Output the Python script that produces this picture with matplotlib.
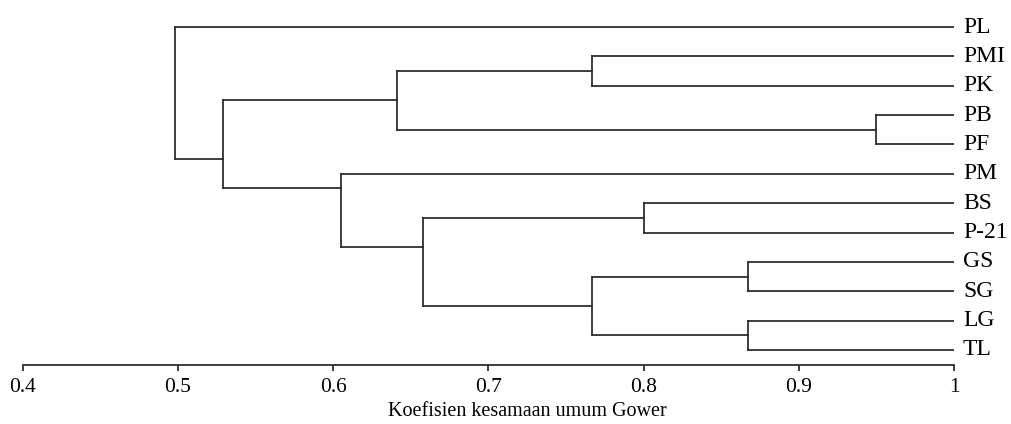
import matplotlib
matplotlib.use("Agg")
import matplotlib.pyplot as plt

# ---- data ----
leaf_labels = ["PL", "PMI", "PK", "PB", "PF", "PM", "BS", "P-21", "GS", "SG", "LG", "TL"]
# merges (scipy-like ids: leaves 0..11, new clusters 12..)
merge_left = [1, 3, 12, 6, 8, 10, 16, 15, 5, 14, 0]
merge_right = [2, 4, 13, 7, 9, 11, 17, 18, 19, 20, 21]
merge_similarity = [0.767, 0.950, 0.641, 0.800, 0.867, 0.867, 0.767, 0.658, 0.605, 0.529, 0.498]
tick_values = [0.4, 0.5, 0.6, 0.7, 0.8, 0.9, 1.0]
tick_labels = ["0.4", "0.5", "0.6", "0.7", "0.8", "0.9", "1"]
xlabel = "Koefisien kesamaan umum Gower"

plt.rcParams["font.family"] = ["Liberation Serif", "DejaVu Serif"]

W, H = 1011, 424
fig = plt.figure(figsize=(W / 100, H / 100), dpi=100)
left_px, right_px = 22.7, 954.0
bottom_px, top_px = 365.0, 5.0
ax = fig.add_axes([left_px / W, (H - bottom_px) / H,
                   (right_px - left_px) / W, (bottom_px - top_px) / H])

n = len(leaf_labels)
leaf_y = list(range(n))
node_x = {i: 1.0 for i in range(n)}
node_y = {i: leaf_y[i] for i in range(n)}
node_min = {i: i for i in range(n)}
node_max = {i: i for i in range(n)}

lc = "#2e2e2e"
lw = 1.3
for k, (a, b, s) in enumerate(zip(merge_left, merge_right, merge_similarity)):
    cid = n + k
    y = (node_max[a] + node_min[b]) / 2.0
    node_x[cid] = s
    node_y[cid] = y
    node_min[cid] = min(node_min[a], node_min[b])
    node_max[cid] = max(node_max[a], node_max[b])
    ax.plot([node_x[a], s], [node_y[a], node_y[a]], color=lc, lw=lw, solid_capstyle="projecting")
    ax.plot([node_x[b], s], [node_y[b], node_y[b]], color=lc, lw=lw, solid_capstyle="projecting")
    ax.plot([s, s], [node_y[a], node_y[b]], color=lc, lw=lw, solid_capstyle="projecting")

for i, lab in enumerate(leaf_labels):
    ax.annotate(lab, xy=(1.0, leaf_y[i]), xytext=(6.5, 0), textcoords="offset points",
                ha="left", va="center", fontsize=17, color="black", annotation_clip=False)

ax.set_xlim(0.4, 1.0)
ax.set_ylim((bottom_px - 27) / 29.36, (top_px - 27) / 29.36)
for sp in ["top", "right", "left"]:
    ax.spines[sp].set_visible(False)
ax.spines["bottom"].set_color(lc)
ax.spines["bottom"].set_linewidth(lw)
ax.set_yticks([])
ax.set_xticks(tick_values)
ax.set_xticklabels(tick_labels, fontsize=15.5)
ax.tick_params(axis="x", length=4, width=lw, color=lc, pad=5)

fig.text(527 / W, (H - 411) / H, xlabel, ha="center", va="center", fontsize=14.5)

fig.savefig("out.png", dpi=100)
